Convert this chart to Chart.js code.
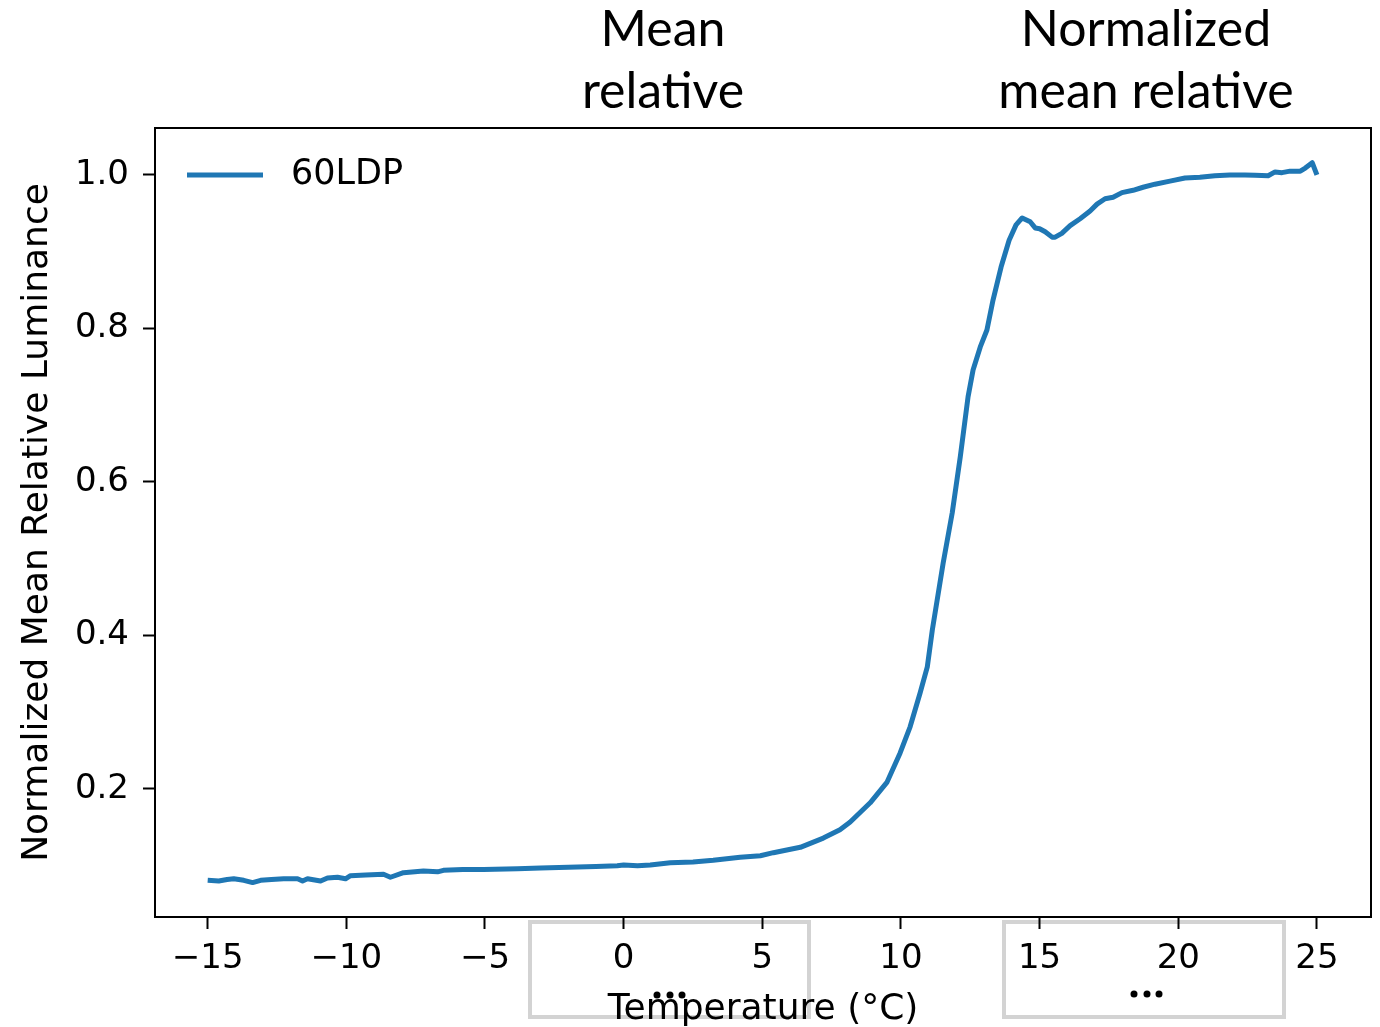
<!DOCTYPE html>
<html>
<head>
<meta charset="utf-8">
<script src="https://cdn.jsdelivr.net/npm/chart.js@4.4.1/dist/chart.umd.min.js"></script>
<style>
  body { margin: 0; background: #fff; }
  canvas { display: block; }
</style>
</head>
<body>
<canvas id="lumChart" width="1380" height="1027"></canvas>
<script>
// temperature (°C) and normalized mean relative luminance
const tempC = [
  -15.0, -14.6, -14.3, -14.06, -13.7, -13.38, -13.09, -12.7, -12.26, -11.76,
  -11.58, -11.4, -10.93, -10.68, -10.32, -10.03, -9.85, -9.3, -8.66, -8.41,
  -7.94, -7.22, -6.71, -6.5, -5.8, -5.05, -3.83, -3.0, -2.0, -1.0,
  -0.23, 0.0, 0.5, 0.96, 1.68, 2.5, 3.23, 4.2, 4.93, 5.4,
  6.37, 7.2, 7.8, 8.17, 8.89, 9.5, 9.97, 10.33, 10.69, 10.95,
  11.13, 11.52, 11.85, 12.14, 12.42, 12.6, 12.86, 13.1, 13.32, 13.61,
  13.9, 14.15, 14.37, 14.66, 14.84, 15.0, 15.2, 15.45, 15.56, 15.8,
  16.1, 16.46, 16.82, 17.07, 17.36, 17.65, 17.97, 18.37, 18.73, 19.16,
  19.7, 20.24, 20.78, 21.32, 21.86, 22.4, 22.77, 23.24, 23.49, 23.74,
  24.03, 24.4, 24.58, 24.83, 25.0
];
const luminance = [
  0.081, 0.080, 0.082, 0.083, 0.081, 0.078, 0.081, 0.082, 0.083, 0.083,
  0.080, 0.083, 0.080, 0.084, 0.085, 0.083, 0.087, 0.088, 0.089, 0.085,
  0.091, 0.093, 0.092, 0.094, 0.095, 0.095, 0.096, 0.097, 0.098, 0.099,
  0.100, 0.101, 0.100, 0.101, 0.104, 0.105, 0.107, 0.111, 0.113, 0.117,
  0.124, 0.136, 0.147, 0.157, 0.182, 0.209, 0.247, 0.281, 0.325, 0.359,
  0.407, 0.494, 0.560, 0.633, 0.711, 0.746, 0.776, 0.798, 0.837, 0.880,
  0.915, 0.935, 0.944, 0.939, 0.931, 0.930, 0.926, 0.919, 0.919, 0.924,
  0.934, 0.943, 0.953, 0.962, 0.969, 0.971, 0.977, 0.980, 0.984, 0.988,
  0.992, 0.996, 0.997, 0.999, 1.000, 1.000, 0.9995, 0.999, 1.004, 1.003,
  1.005, 1.005, 1.009, 1.016, 1.000
];
const xTicks = [-15, -10, -5, 0, 5, 10, 15, 20, 25];
const yTicks = [0.2, 0.4, 0.6, 0.8, 1.0];
const seriesName = '60LDP';
const headings = [['Mean', 'relative'], ['Normalized', 'mean relative']];

const tickFont = { family: 'DejaVu Sans', size: 34 };
const labelFont = { family: 'DejaVu Sans', size: 36 };

// slide decorations: headings, grey boxes and "..." under the axis
const overlayPlugin = {
  id: 'overlay',
  beforeDraw(chart) {
    const ctx = chart.ctx;
    ctx.save();
    ctx.strokeStyle = '#d3d3d3';
    ctx.lineWidth = 4;
    ctx.strokeRect(530, 922, 279, 95);
    ctx.strokeRect(1004, 922, 280, 95);
    ctx.restore();
  },
  afterDraw(chart) {
    const ctx = chart.ctx;
    const area = chart.chartArea;
    ctx.save();
    // top + right frame
    ctx.strokeStyle = '#000';
    ctx.lineWidth = 2;
    ctx.beginPath();
    ctx.moveTo(area.left, area.top);
    ctx.lineTo(area.right, area.top);
    ctx.lineTo(area.right, area.bottom);
    ctx.stroke();

    // legend
    const ds = chart.data.datasets[0];
    ctx.strokeStyle = ds.borderColor;
    ctx.lineWidth = ds.borderWidth;
    ctx.beginPath();
    ctx.moveTo(area.left + 32, area.top + 47);
    ctx.lineTo(area.left + 108, area.top + 47);
    ctx.stroke();
    ctx.fillStyle = '#000';
    ctx.font = '35px "DejaVu Sans"';
    ctx.textBaseline = 'middle';
    ctx.textAlign = 'left';
    ctx.fillText(ds.label, area.left + 136, area.top + 47);

    // dots
    [[657, 995], [670, 995], [682, 995], [1134, 994], [1147, 994], [1159, 994]].forEach(p => {
      ctx.beginPath();
      ctx.arc(p[0], p[1], 3.5, 0, Math.PI * 2);
      ctx.fill();
    });

    // headings
    ctx.font = '50px Lato';
    ctx.textAlign = 'center';
    ctx.textBaseline = 'alphabetic';
    const centers = [663, 1146];
    headings.forEach((lines, i) => {
      ctx.fillText(lines[0], centers[i], 46);
      ctx.fillText(lines[1], centers[i], 108);
    });
    ctx.restore();
  }
};

const ctx = document.getElementById('lumChart').getContext('2d');
new Chart(ctx, {
  type: 'line',
  data: {
    datasets: [{
      label: seriesName,
      data: tempC.map((t, i) => ({ x: t, y: luminance[i] })),
      borderColor: '#1f77b4',
      borderWidth: 5,
      pointRadius: 0,
      tension: 0,
      borderJoinStyle: 'round',
      fill: false
    }]
  },
  options: {
    responsive: false,
    animation: false,
    layout: { padding: { top: 128, right: 9, left: 0, bottom: 0 } },
    plugins: { legend: { display: false }, tooltip: { enabled: false } },
    scales: {
      x: {
        type: 'linear',
        min: -16.9,
        max: 26.95,
        afterFit: s => { s.height = 110; },
        afterBuildTicks: s => { s.ticks = xTicks.map(v => ({ value: v })); },
        border: { display: true, color: '#000', width: 2 },
        grid: { drawOnChartArea: false, drawTicks: true, tickLength: 12, tickColor: '#000', tickWidth: 2 },
        ticks: {
          color: '#000', font: tickFont, padding: 10, maxRotation: 0,
          callback: v => String(v).replace('-', '\u2212')
        },
        title: { display: true, text: 'Temperature (°C)', color: '#000', font: labelFont, padding: { top: 0, bottom: -4 } }
      },
      y: {
        min: 0.0332,
        max: 1.0612,
        afterFit: s => { s.width = 155; },
        afterBuildTicks: s => { s.ticks = yTicks.map(v => ({ value: v })); },
        border: { display: true, color: '#000', width: 2 },
        grid: { drawOnChartArea: false, drawTicks: true, tickLength: 12, tickColor: '#000', tickWidth: 2 },
        ticks: { color: '#000', font: tickFont, padding: 14, callback: v => v.toFixed(1) },
        title: { display: true, text: 'Normalized Mean Relative Luminance', color: '#000', font: labelFont, padding: { top: 16, bottom: 0 } }
      }
    }
  },
  plugins: [overlayPlugin]
});
</script>
</body>
</html>
